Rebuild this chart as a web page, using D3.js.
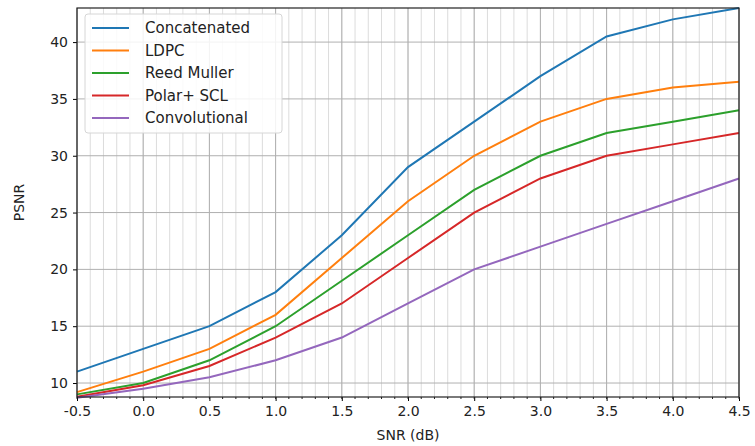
<!DOCTYPE html>
<html>
<head>
<meta charset="utf-8">
<script src="https://cdn.jsdelivr.net/npm/d3@7"></script>
<style>
  body { margin: 0; background: #fff; }
  text { font-family: "DejaVu Sans", sans-serif; fill: #222; }
</style>
</head>
<body>
<script>
var snr = [-0.5, 0.0, 0.5, 1.0, 1.5, 2.0, 2.5, 3.0, 3.5, 4.0, 4.5];
var concatenated = [11, 13, 15, 18, 23, 29, 33, 37, 40.5, 42, 43];
var ldpc = [9.2, 11, 13, 16, 21, 26, 30, 33, 35, 36, 36.5];
var reedMuller = [9, 10, 12, 15, 19, 23, 27, 30, 32, 33, 34];
var polarScl = [8.8, 9.8, 11.5, 14, 17, 21, 25, 28, 30, 31, 32];
var convolutional = [8.7, 9.5, 10.5, 12, 14, 17, 20, 22, 24, 26, 28];
var seriesNames = ["Concatenated", "LDPC", "Reed Muller", "Polar+ SCL", "Convolutional"];
var xTicks = [-0.5, 0.0, 0.5, 1.0, 1.5, 2.0, 2.5, 3.0, 3.5, 4.0, 4.5];
var yTicks = [10, 15, 20, 25, 30, 35, 40];

var colors = ["#1f77b4", "#ff7f0e", "#2ca02c", "#d62728", "#9467bd"];
var allSeries = [concatenated, ldpc, reedMuller, polarScl, convolutional];

var W = 755, H = 446;
var m = { left: 77, right: 16, top: 8, bottom: 49 };

var svg = d3.select("body").append("svg")
    .attr("width", W)
    .attr("height", H);

var x = d3.scaleLinear().domain([-0.5, 4.5]).range([m.left, W - m.right]);
var y = d3.scaleLinear().domain([8.77, 43]).range([H - m.bottom, m.top]);

// minor vertical grid every 0.1
var minor = d3.range(-0.5, 4.5001, 0.1).map(function (v) { return Math.round(v * 10) / 10; });
svg.append("g").selectAll("line")
    .data(minor)
    .enter().append("line")
    .attr("x1", function (d) { return x(d); })
    .attr("x2", function (d) { return x(d); })
    .attr("y1", m.top)
    .attr("y2", H - m.bottom)
    .attr("stroke", "#dcdcdc")
    .attr("stroke-width", 1);

// major grid
svg.append("g").selectAll("line")
    .data(xTicks)
    .enter().append("line")
    .attr("x1", function (d) { return x(d); })
    .attr("x2", function (d) { return x(d); })
    .attr("y1", m.top)
    .attr("y2", H - m.bottom)
    .attr("stroke", "#b0b0b0")
    .attr("stroke-width", 1);

svg.append("g").selectAll("line")
    .data(yTicks)
    .enter().append("line")
    .attr("x1", m.left)
    .attr("x2", W - m.right)
    .attr("y1", function (d) { return y(d); })
    .attr("y2", function (d) { return y(d); })
    .attr("stroke", "#b0b0b0")
    .attr("stroke-width", 1);

// lines
var line = d3.line()
    .x(function (d, i) { return x(snr[i]); })
    .y(function (d) { return y(d); });

svg.append("g").selectAll("path")
    .data(allSeries)
    .enter().append("path")
    .attr("d", line)
    .attr("fill", "none")
    .attr("stroke", function (d, i) { return colors[i]; })
    .attr("stroke-width", 2);

// axes
var fmt = function (d) { return d.toFixed(1); };
var xAxis = svg.append("g")
    .attr("transform", "translate(0," + (H - m.bottom) + ")")
    .call(d3.axisBottom(x).tickValues(xTicks).tickFormat(fmt).tickSize(4).tickPadding(5));
xAxis.select(".domain").remove();
xAxis.selectAll("text").style("font-size", "14px").attr("fill", "#222");

// minor x ticks
svg.append("g").selectAll("line")
    .data(minor)
    .enter().append("line")
    .attr("x1", function (d) { return x(d); })
    .attr("x2", function (d) { return x(d); })
    .attr("y1", H - m.bottom)
    .attr("y2", H - m.bottom + 2)
    .attr("stroke", "#222");

var yAxis = svg.append("g")
    .attr("transform", "translate(" + m.left + ",0)")
    .call(d3.axisLeft(y).tickValues(yTicks).tickSize(4).tickPadding(5));
yAxis.select(".domain").remove();
yAxis.selectAll("text").style("font-size", "14px").attr("fill", "#222");

// frame
svg.append("rect")
    .attr("x", m.left)
    .attr("y", m.top)
    .attr("width", W - m.right - m.left)
    .attr("height", H - m.bottom - m.top)
    .attr("fill", "none")
    .attr("stroke", "#222")
    .attr("stroke-width", 1.2);

svg.append("text")
    .attr("x", (m.left + W - m.right) / 2)
    .attr("y", 440)
    .attr("text-anchor", "middle")
    .style("font-size", "14px")
    .text("SNR (dB)");

svg.append("text")
    .attr("transform", "translate(24," + ((m.top + H - m.bottom) / 2) + ") rotate(-90)")
    .attr("text-anchor", "middle")
    .style("font-size", "14px")
    .text("PSNR");

// legend
var lg = svg.append("g").attr("transform", "translate(85,14)");
lg.append("rect")
    .attr("width", 197)
    .attr("height", 119)
    .attr("rx", 3)
    .attr("fill", "#fff")
    .attr("fill-opacity", 0.85)
    .attr("stroke", "#d6d6d6");

var item = lg.selectAll("g.item")
    .data(seriesNames)
    .enter().append("g")
    .attr("class", "item")
    .attr("transform", function (d, i) { return "translate(0," + (14 + i * 22.5) + ")"; });
item.append("line")
    .attr("x1", 7).attr("x2", 44)
    .attr("stroke", function (d, i) { return colors[i]; })
    .attr("stroke-width", 2);
item.append("text")
    .attr("x", 60)
    .attr("dy", "0.35em")
    .style("font-size", "15px")
    .text(function (d) { return d; });
</script>
</body>
</html>
